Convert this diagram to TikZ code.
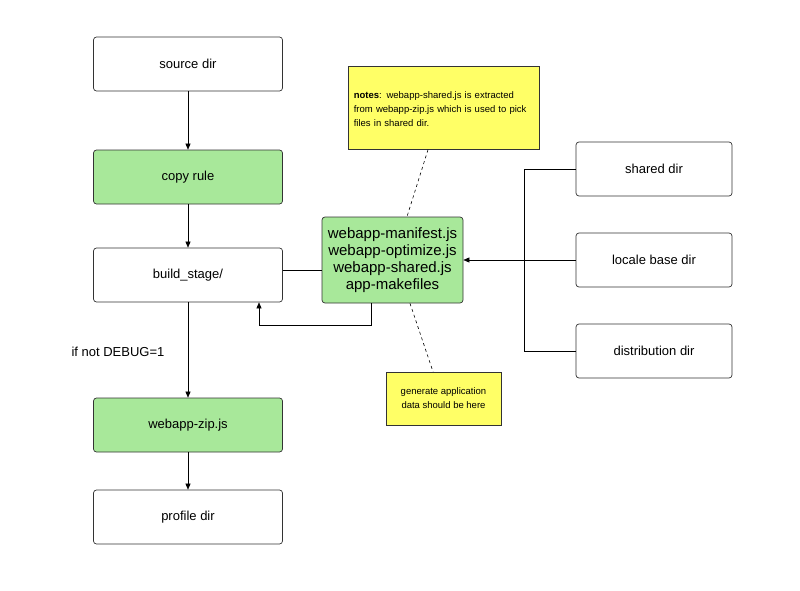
\documentclass[tikz,border=0pt]{standalone}
\usepackage{fontspec}
\setmainfont{Liberation Sans}
\usetikzlibrary{arrows.meta}
\definecolor{gr}{HTML}{A8E89A}
\definecolor{yl}{HTML}{FFFF66}
\begin{document}
\begin{tikzpicture}[x=1pt,y=-1pt,
 box/.style={draw=black!80,line width=0.7pt,rounded corners=3pt,minimum width=189pt,minimum height=54pt,font=\fontsize{13}{15}\selectfont,fill=white},
 gbox/.style={box,fill=gr},
 rbox/.style={box,minimum width=156pt},
 note/.style={draw=black!80,fill=yl,line width=0.7pt,align=left},
 arr/.style={-{Triangle[length=6pt,width=5pt]},line width=0.6pt},
 ln/.style={line width=0.6pt},
 dsh/.style={dashed,line width=0.6pt}]
\useasboundingbox (0,0) rectangle (800,591);
\node[box] (src) at (188,64) {source dir};
\node[gbox] (copy) at (188,177) {copy rule};
\node[box] (build) at (188,275) {build\_stage/};
\node[gbox] (zip) at (188,425) {webapp-zip.js};
\node[box] (prof) at (188,517) {profile dir};
\node[draw=black!80,fill=gr,line width=0.7pt,rounded corners=3pt,minimum width=141pt,minimum height=86pt,align=center,font=\fontsize{15}{17}\selectfont] (mid) at (392.5,260) {webapp-manifest.js\\webapp-optimize.js\\webapp-shared.js\\app-makefiles};
\node[rbox] (sh) at (654,169) {shared dir};
\node[rbox] (loc) at (654,260) {locale base dir};
\node[rbox] (dist) at (654,351) {distribution dir};
\node[note,minimum width=191pt,minimum height=83pt,anchor=north west,text width=180pt,inner sep=0pt,font=\fontsize{9.5}{14}\selectfont] (notes) at (348,66) {\raisebox{0pt}{}\\[-4pt]\textbf{notes}: webapp-shared.js is extracted from webapp-zip.js which is used to pick files in shared dir.\\[14pt]};
\node[note,minimum width=115pt,minimum height=53pt,align=center,font=\fontsize{9.5}{14}\selectfont] (gen) at (443.5,398.5) {generate application\\data should be here};
\node[font=\fontsize{13}{15}\selectfont] (dbg) at (118,352) {if not DEBUG=1};
\draw[arr] (src) -- (copy);
\draw[arr] (copy) -- (build);
\draw[arr] (build) -- (zip);
\draw[arr] (zip) -- (prof);
\draw[ln] (build.east |- 0,270) -- (mid.west |- 0,270);
\draw[arr] (mid.south -| 371,0) -- (371,325) -- (259,325) -- (build.south -| 259,0);
\coordinate (bx) at (524,260);
\draw[ln] (sh.west) -| (bx);
\draw[ln] (dist.west) -| (bx);
\draw[arr] (loc.west) -- (mid.east);
\draw[dsh] (notes.south -| 428,0) -- (mid.north -| 407,0);
\draw[dsh] (mid.south -| 410,0) -- (gen.north -| 433,0);
\end{tikzpicture}
\end{document}
